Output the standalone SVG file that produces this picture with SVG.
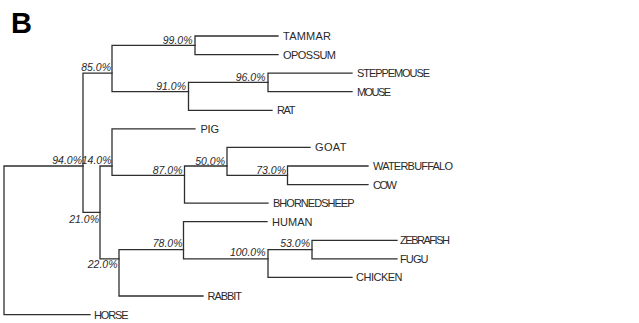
<svg xmlns="http://www.w3.org/2000/svg" width="639" height="323" viewBox="0 0 639 323">
<style>
.ln{fill:none;stroke:#2e2e2e;stroke-width:1.3;stroke-linecap:square}
.leaf{font-family:"Liberation Sans",Arial,sans-serif;font-size:11px;fill:#2a2a2a}
.sup{font-family:"Liberation Sans",Arial,sans-serif;font-size:10.5px;font-style:italic;fill:#2a2a2a;text-anchor:end}
.ttl{font-family:"Liberation Sans",Arial,sans-serif;font-size:29px;font-weight:bold;fill:#000}
</style>
<rect width="639" height="323" fill="#fff"/>
<text class="ttl" x="11" y="33">B</text>
<g id="connectors">
<path class="ln" d="M4,166V314.6M4,166H83M4,314.6H90"/>
<path class="ln" d="M83,73.1V212.4M83,73.1H112M83,212.4H100"/>
<path class="ln" d="M112,45.3V91.7M112,45.3H195M112,91.7H188.5"/>
<path class="ln" d="M195,36V54.6M195,36H278M195,54.6H278"/>
<path class="ln" d="M188.5,82.4V110.3M188.5,82.4H268M188.5,110.3H272"/>
<path class="ln" d="M268,73.1V91.7M268,73.1H352M268,91.7H352"/>
<path class="ln" d="M100,166V258.9M100,166H112M100,258.9H119"/>
<path class="ln" d="M112,128.9V175.3M112,128.9H195M112,175.3H184.5"/>
<path class="ln" d="M184.5,166V203.1M184.5,166H227M184.5,203.1H268"/>
<path class="ln" d="M227,147.4V175.3M227,147.4H310M227,175.3H287.5"/>
<path class="ln" d="M287.5,166V184.6M287.5,166H368M287.5,184.6H368"/>
<path class="ln" d="M119,249.6V296M119,249.6H183.5M119,296H203"/>
<path class="ln" d="M183.5,221.7V258.9M183.5,221.7H267M183.5,258.9H268"/>
<path class="ln" d="M268,249.6V277.4M268,249.6H312M268,277.4H352"/>
<path class="ln" d="M312,240.3V258.9M312,240.3H397M312,258.9H397"/>
</g>
<g id="leaf-tammar"><text class="leaf" x="283" y="40" textLength="48">TAMMAR</text></g>
<g id="leaf-opossum"><text class="leaf" x="283" y="58.6" textLength="53">OPOSSUM</text></g>
<g id="leaf-steppemouse"><text class="leaf" x="357" y="77.1" textLength="73">STEPPEMOUSE</text></g>
<g id="leaf-mouse"><text class="leaf" x="357" y="95.7" textLength="34">MOUSE</text></g>
<g id="leaf-rat"><text class="leaf" x="277" y="114.3" textLength="18.5">RAT</text></g>
<g id="leaf-pig"><text class="leaf" x="200.5" y="132.9" textLength="18.5">PIG</text></g>
<g id="leaf-goat"><text class="leaf" x="315" y="151.4" textLength="31.5">GOAT</text></g>
<g id="leaf-waterbuffalo"><text class="leaf" x="373" y="170" textLength="80">WATERBUFFALO</text></g>
<g id="leaf-cow"><text class="leaf" x="373" y="188.6" textLength="24">COW</text></g>
<g id="leaf-bhornedsheep"><text class="leaf" x="273" y="207.1" textLength="81.5">BHORNEDSHEEP</text></g>
<g id="leaf-human"><text class="leaf" x="272" y="225.7" textLength="40.5">HUMAN</text></g>
<g id="leaf-zebrafish"><text class="leaf" x="400" y="244.3" textLength="50">ZEBRAFISH</text></g>
<g id="leaf-fugu"><text class="leaf" x="400" y="262.9" textLength="28.5">FUGU</text></g>
<g id="leaf-chicken"><text class="leaf" x="356" y="281.4" textLength="46.5">CHICKEN</text></g>
<g id="leaf-rabbit"><text class="leaf" x="207.5" y="300" textLength="34.5">RABBIT</text></g>
<g id="leaf-horse"><text class="leaf" x="94" y="318.6" textLength="34.5">HORSE</text></g>
<g id="node-99"><text class="sup" x="192.5" y="43.5">99.0%</text></g>
<g id="node-85"><text class="sup" x="111" y="71">85.0%</text></g>
<g id="node-91"><text class="sup" x="186" y="90">91.0%</text></g>
<g id="node-96"><text class="sup" x="265.5" y="80.5">96.0%</text></g>
<g id="node-94"><text class="sup" x="82" y="164">94.0%</text></g>
<g id="node-14"><text class="sup" x="111.5" y="164">14.0%</text></g>
<g id="node-87"><text class="sup" x="182.5" y="173.5">87.0%</text></g>
<g id="node-50"><text class="sup" x="225" y="164.5">50.0%</text></g>
<g id="node-73"><text class="sup" x="286" y="174">73.0%</text></g>
<g id="node-21"><text class="sup" x="99" y="223.3">21.0%</text></g>
<g id="node-22"><text class="sup" x="117.5" y="268.3">22.0%</text></g>
<g id="node-78"><text class="sup" x="182.5" y="247">78.0%</text></g>
<g id="node-100"><text class="sup" x="265.5" y="256">100.0%</text></g>
<g id="node-53"><text class="sup" x="310" y="247">53.0%</text></g>
</svg>
